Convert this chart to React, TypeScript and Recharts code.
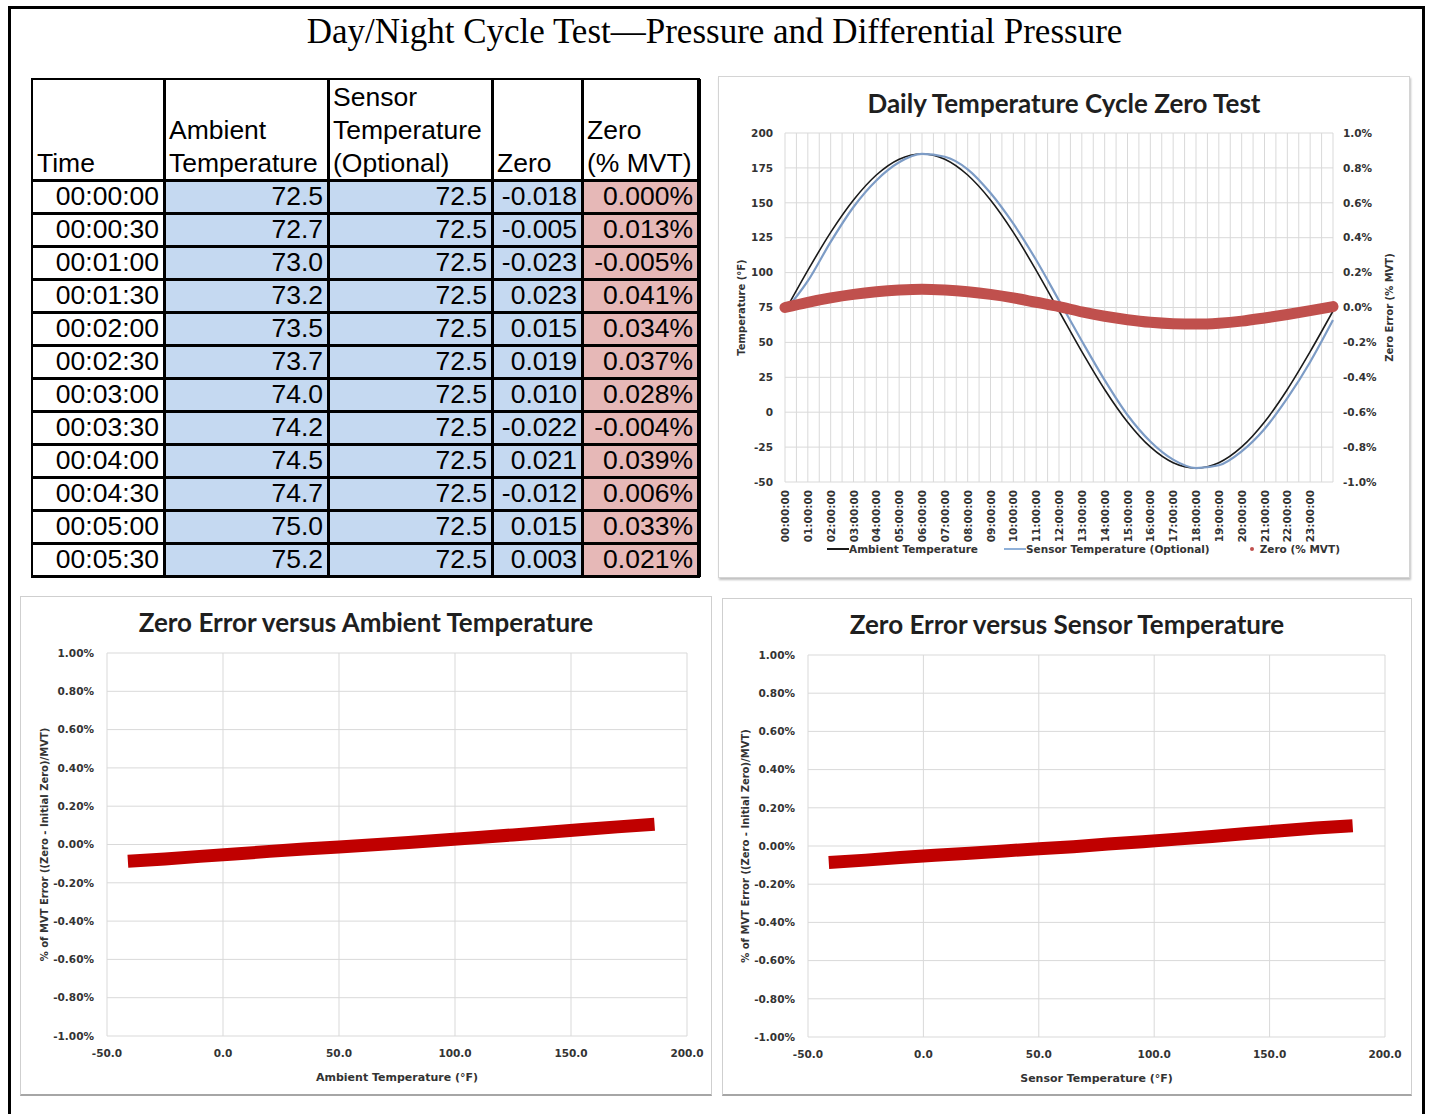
import React from 'react'
import { CartesianGrid, Legend, Line, LineChart, XAxis, YAxis } from 'recharts'

// table rows (first six minutes of the log)
const tableTimes = ['00:00:00', '00:00:30', '00:01:00', '00:01:30', '00:02:00', '00:02:30', '00:03:00', '00:03:30', '00:04:00', '00:04:30', '00:05:00', '00:05:30']
const tableAmbient = [72.5, 72.7, 73.0, 73.2, 73.5, 73.7, 74.0, 74.2, 74.5, 74.7, 75.0, 75.2]
const tableSensor = [72.5, 72.5, 72.5, 72.5, 72.5, 72.5, 72.5, 72.5, 72.5, 72.5, 72.5, 72.5]
const tableZero = [-0.018, -0.005, -0.023, 0.023, 0.015, 0.019, 0.01, -0.022, 0.021, -0.012, 0.015, 0.003]
const tableZeroPct = [0.0, 0.013, -0.005, 0.041, 0.034, 0.037, 0.028, -0.004, 0.039, 0.006, 0.033, 0.021]

// daily cycle chart
const cycleHours = [0, 1, 2, 3, 4, 5, 6, 7, 8, 9, 10, 11, 12, 13, 14, 15, 16, 17, 18, 19, 20, 21, 22, 23, 24]
const ambientTemp = [72.5, 101.6, 128.8, 152, 169.9, 181.2, 185, 181.2, 169.9, 152, 128.8, 101.6, 72.5, 43.4, 16.3, -7, -24.9, -36.2, -40, -36.2, -24.9, -7, 16.3, 43.4, 72.5]
const sensorTemp = [72.5, 94, 122, 147, 166, 179, 185, 183, 174, 157, 135, 109, 80, 51, 23, -2, -21, -34, -40, -38, -28, -12, 10, 36, 66]
const zeroPctMvt = [0.0, 0.03, 0.055, 0.075, 0.09, 0.1, 0.105, 0.1, 0.09, 0.075, 0.055, 0.03, 0.005, -0.025, -0.05, -0.07, -0.085, -0.093, -0.095, -0.09, -0.078, -0.06, -0.04, -0.018, 0.005]
const timeLabels = ['00:00:00', '01:00:00', '02:00:00', '03:00:00', '04:00:00', '05:00:00', '06:00:00', '07:00:00', '08:00:00', '09:00:00', '10:00:00', '11:00:00', '12:00:00', '13:00:00', '14:00:00', '15:00:00', '16:00:00', '17:00:00', '18:00:00', '19:00:00', '20:00:00', '21:00:00', '22:00:00', '23:00:00']
const tempTicks = [-50, -25, 0, 25, 50, 75, 100, 125, 150, 175, 200]
const pctTicks = [-1, -0.8, -0.6, -0.4, -0.2, 0, 0.2, 0.4, 0.6, 0.8, 1]

// zero error vs temperature bands
const ambientBandTemp = [-41, -25, -10, 5, 20, 35, 50, 65, 80, 95, 110, 125, 140, 155, 170, 186]
const ambientBandErr = [-0.088, -0.076, -0.062, -0.05, -0.036, -0.024, -0.013, -0.001, 0.01, 0.024, 0.037, 0.05, 0.064, 0.078, 0.092, 0.106]
const sensorBandTemp = [-41, -25, -10, 5, 20, 35, 50, 65, 80, 95, 110, 125, 140, 155, 170, 186]
const sensorBandErr = [-0.086, -0.074, -0.06, -0.049, -0.038, -0.026, -0.014, -0.004, 0.01, 0.022, 0.036, 0.05, 0.065, 0.08, 0.094, 0.106]
const bandTempTicks = [-50, 0, 50, 100, 150, 200]

const cycleData = cycleHours.map((h, i) => ({
  hour: h,
  ambient: ambientTemp[i],
  sensor: sensorTemp[i],
  zero: zeroPctMvt[i],
}))
const halfHourTicks = Array.from({ length: 49 }, (_, i) => i / 2)

const tickFont = { fontFamily: '"DejaVu Sans", sans-serif', fontSize: 10.5, fontWeight: 'bold' as const, fill: '#333' }
const axisTitleFont = { fontFamily: '"DejaVu Sans", sans-serif', fontSize: 10, fontWeight: 'bold' as const, fill: '#333' }
const chartTitleStyle: React.CSSProperties = {
  position: 'absolute',
  left: 0,
  width: '100%',
  textAlign: 'center',
  fontFamily: 'Lato, sans-serif',
  fontWeight: 'bold',
  fontSize: 26,
  lineHeight: '30px',
  color: '#1f1f1f',
}

const colX = [32, 164, 328, 492, 582, 698]
const headerTop = 79
const headerBottom = 180
const rowH = 33

function DataTable() {
  const cellFont: React.CSSProperties = {
    fontFamily: '"Liberation Sans", Arial, sans-serif',
    fontSize: 26.5,
    lineHeight: rowH + 'px',
    color: '#000',
    whiteSpace: 'nowrap',
  }
  const headers = [
    ['Time'],
    ['Ambient', 'Temperature'],
    ['Sensor', 'Temperature', '(Optional)'],
    ['Zero'],
    ['Zero', '(% MVT)'],
  ]
  const fills = ['#ffffff', '#c5d9f1', '#c5d9f1', '#c5d9f1', '#e6b8b7']
  const rows = tableTimes.map((t, i) => [
    t,
    tableAmbient[i].toFixed(1),
    tableSensor[i].toFixed(1),
    tableZero[i].toFixed(3),
    tableZeroPct[i].toFixed(3) + '%',
  ])
  const bottom = headerBottom + rows.length * rowH
  return (
    <>
      {headers.map((lines, c) => (
        <div
          key={'h' + c}
          style={{
            ...cellFont,
            position: 'absolute',
            left: colX[c] + 5,
            top: headerBottom - lines.length * rowH,
            width: colX[c + 1] - colX[c] - 6,
          }}
        >
          {lines.map((l) => (
            <div key={l}>{l}</div>
          ))}
        </div>
      ))}
      {rows.map((r, ri) =>
        r.map((v, c) => (
          <div
            key={ri + '-' + c}
            style={{
              ...cellFont,
              position: 'absolute',
              left: colX[c],
              top: headerBottom + ri * rowH,
              width: colX[c + 1] - colX[c],
              height: rowH,
              background: fills[c],
              textAlign: 'right',
              paddingRight: 5,
              boxSizing: 'border-box',
            }}
          >
            {v}
          </div>
        )),
      )}
      {colX.map((x, i) => (
        <div
          key={'v' + i}
          style={{
            position: 'absolute',
            left: i === 0 ? x - 1 : x - 1.5,
            top: headerTop,
            width: i === 0 ? 2 : i === colX.length - 1 ? 4 : 3,
            height: bottom - headerTop + 1,
            background: '#000',
          }}
        />
      ))}
      {[headerTop, ...rows.map((_, i) => headerBottom + i * rowH), bottom].map((y, i) => (
        <div
          key={'r' + i}
          style={{
            position: 'absolute',
            left: colX[0] - 1,
            top: i === 0 ? y - 1 : y - 1.5,
            width: colX[colX.length - 1] - colX[0] + 3,
            height: i === 0 ? 2 : 3,
            background: '#000',
          }}
        />
      ))}
    </>
  )
}

const HourTick = (props: any) => {
  const { x, y, payload } = props
  const v = payload.value
  if (!Number.isInteger(v) || v >= timeLabels.length) return <g />
  return (
    <text
      x={x}
      y={y}
      transform={`rotate(-90 ${x} ${y})`}
      textAnchor="end"
      dominantBaseline="central"
      {...tickFont}
    >
      {timeLabels[v]}
    </text>
  )
}

const CycleLegend = () => {
  const item: React.CSSProperties = { display: 'flex', alignItems: 'center' }
  const txt: React.CSSProperties = { fontFamily: '"DejaVu Sans", sans-serif', fontSize: 10.5, fontWeight: 'bold', color: '#333' }
  return (
    <div style={{ display: 'flex', paddingLeft: 108, height: 20, alignItems: 'center' }}>
      <div style={{ ...item, marginRight: 26 }}>
        <span style={{ width: 22, height: 2, background: '#1a1a1a', display: 'inline-block' }} />
        <span style={txt}>Ambient Temperature</span>
      </div>
      <div style={{ ...item, marginRight: 36 }}>
        <span style={{ width: 22, height: 2, background: '#8fb0d8', display: 'inline-block' }} />
        <span style={txt}>Sensor Temperature (Optional)</span>
      </div>
      <div style={item}>
        <span style={{ width: 4, height: 4, borderRadius: 2, background: '#c0504d', display: 'inline-block', margin: '0 6px 0 4px' }} />
        <span style={txt}>Zero (% MVT)</span>
      </div>
    </div>
  )
}

function CycleChart() {
  return (
    <div
      style={{
        position: 'absolute',
        left: 718,
        top: 76,
        width: 692,
        height: 502,
        border: '1px solid #d4d4d4',
        boxShadow: '1px 2px 2px rgba(0,0,0,0.25)',
        boxSizing: 'border-box',
        background: '#fff',
      }}
    >
      <div style={{ ...chartTitleStyle, top: 11 }}>Daily Temperature Cycle Zero Test</div>
      <LineChart width={690} height={500} data={cycleData} margin={{ top: 56, right: 20, bottom: 18, left: 20 }}>
        <CartesianGrid stroke="#d9d9d9" yAxisId="left" />
        <XAxis
          dataKey="hour"
          type="number"
          domain={[0, 24]}
          ticks={halfHourTicks}
          interval={0}
          tick={<HourTick />}
          tickLine={false}
          axisLine={false}
          height={57}
        />
        <YAxis
          yAxisId="left"
          domain={[-50, 200]}
          ticks={tempTicks}
          width={46}
          tickLine={false}
          axisLine={false}
          tickMargin={6}
          tick={tickFont}
          label={{ value: 'Temperature (°F)', angle: -90, position: 'insideLeft', offset: 2, style: { ...axisTitleFont, textAnchor: 'middle' } }}
        />
        <YAxis
          yAxisId="right"
          orientation="right"
          domain={[-1, 1]}
          ticks={pctTicks}
          width={56}
          tickLine={false}
          axisLine={false}
          tickMargin={4}
          tick={{ ...tickFont, textAnchor: 'start' }}
          tickFormatter={(v: number) => v.toFixed(1) + '%'}
          label={{ value: 'Zero Error (% MVT)', angle: -90, position: 'insideRight', offset: 0, style: { ...axisTitleFont, textAnchor: 'middle' } }}
        />
        <Legend verticalAlign="bottom" height={20} content={<CycleLegend />} wrapperStyle={{ left: 0, width: 690 }} />
        <Line yAxisId="left" dataKey="ambient" type="monotone" stroke="#1a1a1a" strokeWidth={1.6} dot={false} isAnimationActive={false} />
        <Line yAxisId="left" dataKey="sensor" type="monotone" stroke="#7d9cc6" strokeWidth={2.2} dot={false} isAnimationActive={false} />
        <Line yAxisId="right" dataKey="zero" type="monotone" stroke="#c0504d" strokeWidth={11} strokeLinecap="round" dot={false} isAnimationActive={false} />
      </LineChart>
    </div>
  )
}

interface ZeroErrorChartProps {
  left: number
  top: number
  width: number
  height: number
  title: string
  xTitle: string
  temps: number[]
  errs: number[]
  margin: { top: number; right: number; bottom: number; left: number }
}

function ZeroErrorChart({ left, top, width, height, title, xTitle, temps, errs, margin }: ZeroErrorChartProps) {
  const data = temps.map((t, i) => ({ temp: t, err: errs[i] }))
  return (
    <div
      style={{
        position: 'absolute',
        left,
        top,
        width,
        height,
        border: '1px solid #cfcfcf',
        borderBottom: '2px solid #a6a6a6',
        boxSizing: 'border-box',
        background: '#fff',
      }}
    >
      <div style={{ ...chartTitleStyle, top: 10 }}>{title}</div>
      <LineChart width={width - 2} height={height - 3} data={data} margin={margin}>
        <CartesianGrid stroke="#d9d9d9" />
        <XAxis
          dataKey="temp"
          type="number"
          domain={[-50, 200]}
          ticks={bandTempTicks}
          interval={0}
          tickLine={false}
          axisLine={false}
          tickMargin={8}
          tick={tickFont}
          tickFormatter={(v: number) => v.toFixed(1)}
          height={45}
          label={{ value: xTitle, position: 'insideBottom', offset: 0, style: { ...axisTitleFont, fontSize: 11 } }}
        />
        <YAxis
          domain={[-1, 1]}
          ticks={pctTicks}
          width={70}
          tickLine={false}
          axisLine={false}
          tickMargin={7}
          tick={tickFont}
          tickFormatter={(v: number) => v.toFixed(2) + '%'}
          label={{
            value: '% of MVT Error ((Zero - Initial Zero)/MVT)',
            angle: -90,
            position: 'insideLeft',
            offset: 7,
            style: { ...axisTitleFont, textAnchor: 'middle' },
          }}
        />
        <Line dataKey="err" type="linear" stroke="#c00000" strokeWidth={13} dot={false} isAnimationActive={false} />
      </LineChart>
    </div>
  )
}

export default function App() {
  return (
    <div style={{ position: 'absolute', left: 0, top: 0, width: 1429, height: 1114, background: '#fff', overflow: 'hidden' }}>
      <div
        style={{
          position: 'absolute',
          left: 8,
          top: 6,
          width: 1417,
          height: 1140,
          border: '3px solid #000',
          boxSizing: 'border-box',
        }}
      />
      <div
        style={{
          position: 'absolute',
          left: 0,
          top: 13,
          width: 1429,
          textAlign: 'center',
          fontFamily: '"Liberation Serif", "Times New Roman", serif',
          fontSize: 35,
          lineHeight: '38px',
          color: '#000',
        }}
      >
        Day/Night Cycle Test—Pressure and Differential Pressure
      </div>
      <DataTable />
      <CycleChart />
      <ZeroErrorChart
        left={20}
        top={596}
        width={692}
        height={500}
        title="Zero Error versus Ambient Temperature"
        xTitle="Ambient Temperature (°F)"
        temps={ambientBandTemp}
        errs={ambientBandErr}
        margin={{ top: 56, right: 24, bottom: 13, left: 16 }}
      />
      <ZeroErrorChart
        left={722}
        top={598}
        width={690}
        height={498}
        title="Zero Error versus Sensor Temperature"
        xTitle="Sensor Temperature (°F)"
        temps={sensorBandTemp}
        errs={sensorBandErr}
        margin={{ top: 56, right: 26, bottom: 12, left: 15 }}
      />
    </div>
  )
}
